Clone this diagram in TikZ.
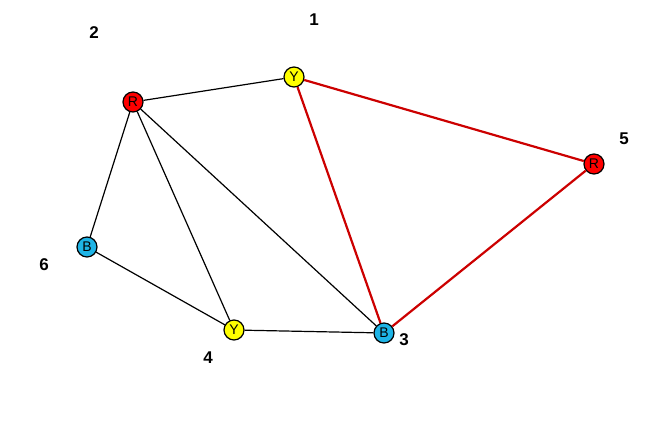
\documentclass[tikz,border=0pt]{standalone}
\usepackage{fontspec}
\setmainfont{Liberation Sans}
\definecolor{nyel}{RGB}{255,255,0}
\definecolor{nred}{RGB}{255,0,0}
\definecolor{nblue}{RGB}{30,180,230}
\definecolor{ered}{RGB}{204,0,0}
\begin{document}
\begin{tikzpicture}[x=1pt,y=-1pt,
  vtx/.style={circle,draw=black,line width=1.2pt,minimum size=20pt,inner sep=0pt,font=\fontsize{14}{14}\selectfont},
  lbl/.style={font=\bfseries\fontsize{17}{17}\selectfont},
  bl/.style={draw=black,line width=1.2pt},
  rd/.style={draw=ered,line width=2.2pt}]
\useasboundingbox (0,0) rectangle (667,438);
\node[vtx,fill=nyel] (n1) at (294,77) {Y};
\node[vtx,fill=nred] (n2) at (133,102) {R};
\node[vtx,fill=nblue] (n3) at (384,333) {B};
\node[vtx,fill=nyel] (n4) at (234,330) {Y};
\node[vtx,fill=nred] (n5) at (594,164) {R};
\node[vtx,fill=nblue] (n6) at (87,247) {B};
\node[lbl] (l1) at (314,20) {1};
\node[lbl] (l2) at (94,33) {2};
\node[lbl] (l3) at (404,340) {3};
\node[lbl] (l4) at (208,358) {4};
\node[lbl] (l5) at (624,139) {5};
\node[lbl] (l6) at (44,265) {6};
\path[bl] (n2) -- (n1);
\path[bl] (n2) -- (n6);
\path[bl] (n2) -- (n4);
\path[bl] (n2) -- (n3);
\path[bl] (n6) -- (n4);
\path[bl] (n4) -- (n3);
\path[rd] (n1) -- (n5);
\path[rd] (n1) -- (n3);
\path[rd] (n5) -- (n3);
\end{tikzpicture}
\end{document}
